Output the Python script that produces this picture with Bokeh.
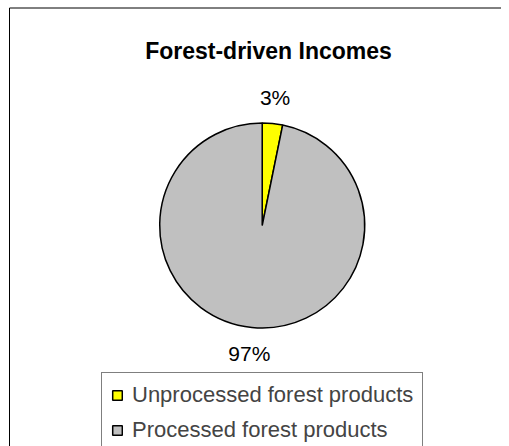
import numpy as np
from bokeh.plotting import figure
from bokeh.models import Range1d, Legend, LegendItem, ColumnDataSource, Label
from bokeh.core.properties import value
from bokeh.embed import file_html
from bokeh.resources import INLINE

# ---- data ----
categories = ["Unprocessed forest products", "Processed forest products"]
shares = [3.2, 96.8]
labels = ["3%", "97%"]
colors = ["#FFFF00", "#C0C0C0"]
title_text = "Forest-driven Incomes"

W, H = 501, 446
FONT = "Liberation Sans"

p = figure(width=W, height=H, output_backend="svg", toolbar_location=None,
           x_range=Range1d(0, W), y_range=Range1d(0, H),
           min_border=0, min_border_left=0, min_border_right=0,
           min_border_top=0, min_border_bottom=0)
p.axis.visible = False
p.xgrid.visible = False
p.ygrid.visible = False
p.outline_line_color = None
p.background_fill_color = "white"
p.border_fill_color = "white"

# chart frame: left and top edges (right/bottom fall outside the window)
p.multi_line(xs=[[9, 9], [9, W + 20]], ys=[[-20, H - 7.5], [H - 7.5, H - 7.5]],
             line_color="black", line_width=1)

# pie geometry
cx, cy, r = 261.7, H - 225.0, 102.5
vals = np.array(shares, dtype=float)
frac = vals / vals.sum()
cum = np.concatenate([[0], np.cumsum(frac)])
start = np.pi / 2 - cum[:-1] * 2 * np.pi
end = np.pi / 2 - cum[1:] * 2 * np.pi
mid = (start + end) / 2

src = ColumnDataSource(dict(cat=categories, start=start, end=end, color=colors))
wr = p.wedge(x=cx, y=cy, radius=r, start_angle="start", end_angle="end",
             direction="clock", fill_color="color", line_color="black",
             line_width=1.5, source=src)

# labels outside slices
lr = r + 26
lab_src = ColumnDataSource(dict(x=cx + lr * np.cos(mid), y=cy + lr * np.sin(mid), t=labels))
p.text(x="x", y="y", text="t", source=lab_src, text_align="center",
       text_baseline="middle", text_font=value(FONT), text_font_size="21px",
       text_color="black")

# title
p.add_layout(Label(x=268, y=H - 50.5, text=title_text, text_align="center",
                   text_baseline="middle", text_font=FONT, text_font_size="23px",
                   text_font_style="bold", text_color="black"))

items = [LegendItem(label=c, renderers=[wr], index=i) for i, c in enumerate(categories)]
legend = Legend(items=items, location=(101, H - 374 - 79), orientation="vertical",
                label_text_font=FONT, label_text_font_size="22px",
                glyph_width=12, glyph_height=12, label_standoff=9,
                padding=9, spacing=9, margin=0,
                border_line_color="black", border_line_width=1,
                background_fill_color="white", background_fill_alpha=1)
p.add_layout(legend, "center")

open("out.html", "w").write(file_html(p, INLINE))
